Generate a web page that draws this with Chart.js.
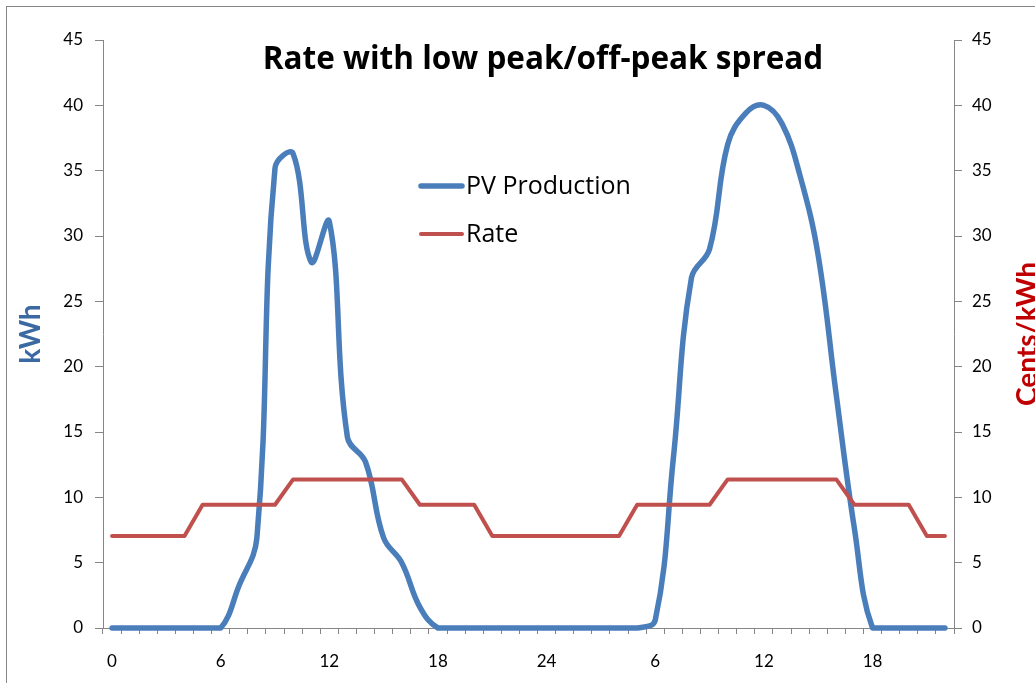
<!DOCTYPE html>
<html>
<head>
<meta charset="utf-8">
<script src="https://cdn.jsdelivr.net/npm/chart.js@4.4.0/dist/chart.umd.min.js"></script>
<style>
  html, body { margin: 0; padding: 0; background: #fff; }
  #wrap { position: relative; width: 1035px; height: 683px; }
</style>
</head>
<body>
<div id="wrap"><canvas id="rateChart"></canvas></div>
<script>
// ===== データ =====
const hours = [0,1,2,3,4,5,6,7,8,9,10,11,12,13,14,15,16,17,18,19,20,21,22,23,24,
               1,2,3,4,5,6,7,8,9,10,11,12,13,14,15,16,17,18,19,20,21,22];
const pvProduction = [0,0,0,0,0,0,0,3.2,6.9,35.2,36.3,28.0,31.1,14.6,12.7,6.9,5.0,1.6,0,0,0,0,0,0,
                      0,0,0,0,0,0,0.6,13.0,26.8,29.0,37.0,39.4,40.0,38.6,34.6,28.5,17.8,7.6,0,0,0,0,0];
const rate = [7.04,7.04,7.04,7.04,7.04,9.43,9.43,9.43,9.43,9.43,
              11.37,11.37,11.37,11.37,11.37,11.37,11.37,9.43,9.43,9.43,9.43,
              7.04,7.04,7.04,7.04,7.04,7.04,7.04,7.04,9.43,9.43,9.43,9.43,9.43,
              11.37,11.37,11.37,11.37,11.37,11.37,11.37,9.43,9.43,9.43,9.43,7.04,7.04];
const yTicks = [0,5,10,15,20,25,30,35,40,45];

const titleText = "Rate with low peak/off-peak spread";
const BLUE = "#4a7ebb";
const RED = "#c0504d";
const AXIS = "#868686";
const FONT = "Lato, 'Open Sans', sans-serif";
const WIDE = "'Open Sans', Lato, sans-serif";

// 枠・タイトル・凡例・軸タイトル
const overlay = {
  id: "overlay",
  beforeDraw(chart) {
    const c = chart.ctx;
    c.save();
    c.fillStyle = "#fff";
    c.fillRect(0, 0, chart.width, chart.height);
    c.strokeStyle = AXIS;
    c.lineWidth = 1;
    c.strokeRect(6.5, 6.5, 1200, 1000);
    c.restore();
  },
  afterDraw(chart) {
    const c = chart.ctx;
    c.save();
    // title
    c.fillStyle = "#000";
    c.font = "bold 31.5px " + WIDE;
    c.textAlign = "center";
    c.textBaseline = "alphabetic";
    c.fillText(titleText, 543, 69);

    // legend
    const items = [
      { label: "PV Production", color: BLUE, w: 5.5, y: 186 },
      { label: "Rate", color: RED, w: 4, y: 234 }
    ];
    c.font = "25px " + WIDE;
    c.textAlign = "left";
    c.textBaseline = "alphabetic";
    items.forEach(it => {
      c.strokeStyle = it.color;
      c.lineWidth = it.w;
      c.lineCap = "round";
      c.beginPath();
      c.moveTo(421, it.y);
      c.lineTo(462, it.y);
      c.stroke();
      c.fillStyle = "#000";
      c.fillText(it.label, 466, it.y + 8);
    });

    // axis titles
    c.font = "bold 28px " + FONT;
    c.textAlign = "center";
    c.textBaseline = "alphabetic";
    const mid = (chart.chartArea.top + chart.chartArea.bottom) / 2;
    c.fillStyle = "#3b6aa3";
    c.save();
    c.translate(40, mid);
    c.rotate(-Math.PI / 2);
    c.fillText("kWh", 0, 0);
    c.restore();
    c.fillStyle = "#c00000";
    c.save();
    c.translate(1037, mid);
    c.rotate(-Math.PI / 2);
    c.fillText("Cents/kWh", 0, 0);
    c.restore();
    c.restore();
  }
};

const yAxis = (pos, pad, width) => ({
  position: pos,
  min: 0,
  max: 45,
  afterBuildTicks: s => { s.ticks = yTicks.map(v => ({ value: v })); },
  afterFit: s => { s.width = width; },
  border: { display: true, color: AXIS, width: 1 },
  grid: { drawOnChartArea: false, drawTicks: true, tickLength: 8, color: AXIS },
  ticks: { color: "#000", padding: pad, font: { family: FONT, size: 17 } }
});

const ctx = document.getElementById("rateChart");
new Chart(ctx, {
  type: "line",
  data: {
    labels: hours,
    datasets: [
      {
        label: "PV Production",
        data: pvProduction,
        yAxisID: "y",
        borderColor: BLUE,
        borderWidth: 5.5,
        tension: 0.4,
        pointRadius: 0,
        borderCapStyle: "round",
        borderJoinStyle: "round",
        clip: false,
        order: 2
      },
      {
        label: "Rate",
        data: rate,
        yAxisID: "y1",
        borderColor: RED,
        borderWidth: 4,
        tension: 0,
        pointRadius: 0,
        borderCapStyle: "round",
        borderJoinStyle: "round",
        clip: false,
        order: 1
      }
    ]
  },
  options: {
    responsive: true,
    maintainAspectRatio: false,
    animation: false,
    layout: { padding: { top: 40, left: 0, right: 0, bottom: 0 } },
    scales: {
      x: {
        type: "category",
        offset: true,
        afterFit: s => { s.height = 55; },
        border: { display: true, color: AXIS, width: 1 },
        grid: { offset: true, drawOnChartArea: false, drawTicks: true, tickLength: 6, color: AXIS },
        ticks: {
          autoSkip: false,
          maxRotation: 0,
          color: "#000",
          padding: 17,
          font: { family: FONT, size: 17 },
          callback: (v, i) => (i % 6 === 0 ? String(hours[i]) : "")
        }
      },
      y: yAxis("left", 12, 103),
      y1: yAxis("right", 10, 81)
    },
    plugins: {
      legend: { display: false },
      title: { display: false },
      tooltip: { enabled: false }
    }
  },
  plugins: [overlay]
});
</script>
</body>
</html>
